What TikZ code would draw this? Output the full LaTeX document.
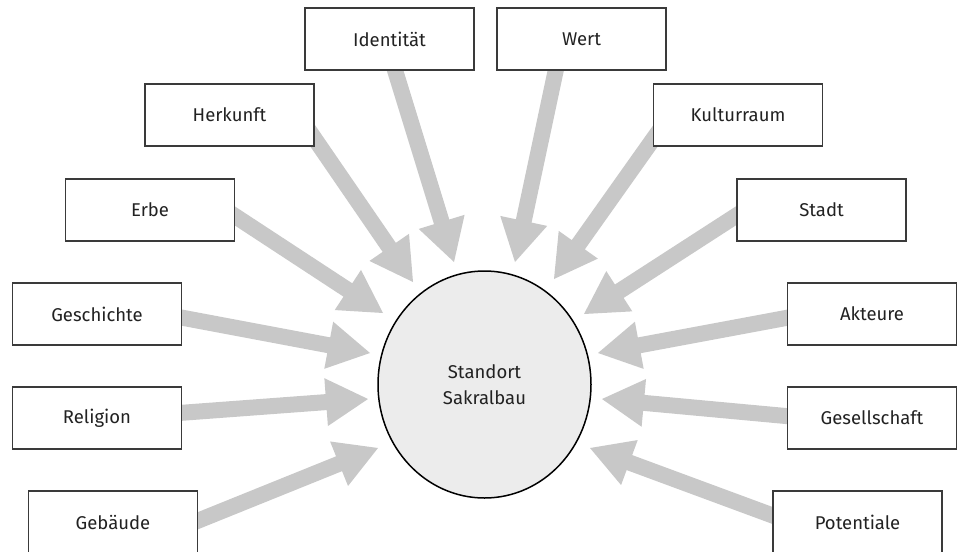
\documentclass[tikz,border=0pt]{standalone}
\usepackage{fontspec}
\setmainfont{Fira Sans}
\usetikzlibrary{calc,shapes.geometric}
\definecolor{arrowgrey}{HTML}{C8C8C8}
\definecolor{boxline}{HTML}{3A3A3A}
\definecolor{circfill}{HTML}{ECECEC}
\definecolor{txt}{HTML}{222222}
\newcommand\fatarrow[2]{%
  \fill[arrowgrey] let \p1=(#1), \p2=(#2),
    \n1={atan2(\y2-\y1,\x2-\x1)}, \n2={veclen(\x2-\x1,\y2-\y1)} in
    [shift={(\p2)}, rotate=\n1]
    (0pt,0pt) -- (-42pt,24pt) -- (-42pt,8pt) -- ({-\n2*1pt},8pt)
    -- ({-\n2*1pt},-8pt) -- (-42pt,-8pt) -- (-42pt,-24pt) -- cycle;}
\tikzset{
  box/.style={draw=boxline, line width=1.3pt, fill=white, minimum width=169pt,
    minimum height=62pt, inner sep=0pt, text=txt, font=\fontsize{18.5pt}{22pt}\selectfont},
  hub/.style={ellipse, draw=black, line width=1.5pt, fill=circfill, minimum width=213pt,
    minimum height=227pt, inner sep=0pt, align=center, text=txt,
    font=\fontsize{18.5pt}{26pt}\selectfont}
}
\begin{document}
\begin{tikzpicture}[x=1pt,y=-1pt]
\useasboundingbox (0,0) rectangle (957,551);
% start points (under the boxes) and tips
\coordinate (sIde) at (386,41);   \coordinate (tIde) at (454,262);
\coordinate (sWer) at (562,41);   \coordinate (tWer) at (515,262);
\coordinate (sHer) at (297,113);  \coordinate (tHer) at (413,282);
\coordinate (sKul) at (671,114);  \coordinate (tKul) at (554,279);
\coordinate (sErb) at (209,199);  \coordinate (tErb) at (383,313);
\coordinate (sSta) at (762,199);  \coordinate (tSta) at (584,314);
\coordinate (sGes) at (152,312);  \coordinate (tGes) at (370,353);
\coordinate (sAkt) at (818,312);  \coordinate (tAkt) at (598,353);
\coordinate (sRel) at (152,415);  \coordinate (tRel) at (368,399);
\coordinate (sGsl) at (818,419);  \coordinate (tGsl) at (602,399);
\coordinate (sGeb) at (170,532);  \coordinate (tGeb) at (378,448);
\coordinate (sPot) at (801,526);  \coordinate (tPot) at (590,448);
% arrows
\fatarrow{sIde}{tIde}
\fatarrow{sWer}{tWer}
\fatarrow{sHer}{tHer}
\fatarrow{sKul}{tKul}
\fatarrow{sErb}{tErb}
\fatarrow{sSta}{tSta}
\fatarrow{sGes}{tGes}
\fatarrow{sAkt}{tAkt}
\fatarrow{sRel}{tRel}
\fatarrow{sGsl}{tGsl}
\fatarrow{sGeb}{tGeb}
\fatarrow{sPot}{tPot}
% centre
\node[hub] (hub) at (484.5,384.5) {Standort\\Sakralbau};
% boxes
\node[box] (ide) at (389.5,39) {Identität};
\node[box] (wer) at (581.5,39) {Wert};
\node[box] (her) at (229.5,115) {Herkunft};
\node[box] (kul) at (738,115) {Kulturraum};
\node[box] (erb) at (150,210) {Erbe};
\node[box] (sta) at (821.5,210) {Stadt};
\node[box] (ges) at (97,314) {Geschichte};
\node[box] (akt) at (872,314) {Akteure};
\node[box] (rel) at (97,418) {Religion};
\node[box] (gsl) at (872,418) {Gesellschaft};
\node[box] (geb) at (113,522) {Gebäude};
\node[box] (pot) at (857.5,522) {Potentiale};
\end{tikzpicture}
\end{document}
